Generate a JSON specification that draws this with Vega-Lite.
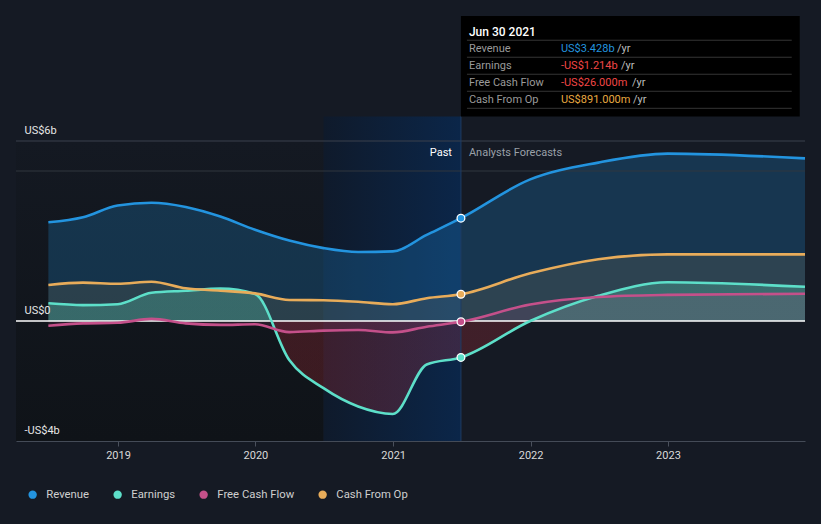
{
  "$schema": "https://vega.github.io/schema/vega-lite/v6.json",
  "width": 789,
  "height": 300,
  "autosize": {"type": "none"},
  "padding": {"left": 16, "top": 141, "right": 16, "bottom": 83},
  "background": "#151a24",
  "config": {"view": {"stroke": null}, "font": "Roboto", "text": {"font": "Roboto"}},
  "datasets": {
    "fin": [
      {"series": "Revenue", "date": "2018-06-30", "value": 3.29},
      {"series": "Revenue", "date": "2018-09-30", "value": 3.46},
      {"series": "Revenue", "date": "2018-12-31", "value": 3.85},
      {"series": "Revenue", "date": "2019-03-31", "value": 3.94},
      {"series": "Revenue", "date": "2019-06-30", "value": 3.80},
      {"series": "Revenue", "date": "2019-09-30", "value": 3.48},
      {"series": "Revenue", "date": "2019-12-31", "value": 3.04},
      {"series": "Revenue", "date": "2020-03-31", "value": 2.68},
      {"series": "Revenue", "date": "2020-06-30", "value": 2.43},
      {"series": "Revenue", "date": "2020-09-30", "value": 2.30},
      {"series": "Revenue", "date": "2020-12-31", "value": 2.32},
      {"series": "Revenue", "date": "2021-03-31", "value": 2.87},
      {"series": "Revenue", "date": "2021-06-30", "value": 3.428},
      {"series": "Revenue", "date": "2021-12-31", "value": 4.72},
      {"series": "Revenue", "date": "2022-06-30", "value": 5.28},
      {"series": "Revenue", "date": "2022-12-31", "value": 5.58},
      {"series": "Revenue", "date": "2023-12-31", "value": 5.42},
      {"series": "Earnings", "date": "2018-06-30", "value": 0.59},
      {"series": "Earnings", "date": "2018-09-30", "value": 0.53},
      {"series": "Earnings", "date": "2018-12-31", "value": 0.56},
      {"series": "Earnings", "date": "2019-03-31", "value": 0.94},
      {"series": "Earnings", "date": "2019-06-30", "value": 1.01},
      {"series": "Earnings", "date": "2019-09-30", "value": 1.08},
      {"series": "Earnings", "date": "2019-12-31", "value": 0.90},
      {"series": "Earnings", "date": "2020-03-31", "value": -1.30},
      {"series": "Earnings", "date": "2020-06-30", "value": -2.24},
      {"series": "Earnings", "date": "2020-09-30", "value": -2.85},
      {"series": "Earnings", "date": "2020-12-31", "value": -3.10},
      {"series": "Earnings", "date": "2021-03-31", "value": -1.45},
      {"series": "Earnings", "date": "2021-06-30", "value": -1.214},
      {"series": "Earnings", "date": "2021-12-31", "value": 0.0},
      {"series": "Earnings", "date": "2022-06-30", "value": 0.84},
      {"series": "Earnings", "date": "2022-12-31", "value": 1.29},
      {"series": "Earnings", "date": "2023-12-31", "value": 1.14},
      {"series": "Free Cash Flow", "date": "2018-06-30", "value": -0.16},
      {"series": "Free Cash Flow", "date": "2018-09-30", "value": -0.08},
      {"series": "Free Cash Flow", "date": "2018-12-31", "value": -0.06},
      {"series": "Free Cash Flow", "date": "2019-03-31", "value": 0.07},
      {"series": "Free Cash Flow", "date": "2019-06-30", "value": -0.08},
      {"series": "Free Cash Flow", "date": "2019-09-30", "value": -0.13},
      {"series": "Free Cash Flow", "date": "2019-12-31", "value": -0.11},
      {"series": "Free Cash Flow", "date": "2020-03-31", "value": -0.37},
      {"series": "Free Cash Flow", "date": "2020-06-30", "value": -0.32},
      {"series": "Free Cash Flow", "date": "2020-09-30", "value": -0.30},
      {"series": "Free Cash Flow", "date": "2020-12-31", "value": -0.38},
      {"series": "Free Cash Flow", "date": "2021-03-31", "value": -0.19},
      {"series": "Free Cash Flow", "date": "2021-06-30", "value": -0.026},
      {"series": "Free Cash Flow", "date": "2021-12-31", "value": 0.55},
      {"series": "Free Cash Flow", "date": "2022-06-30", "value": 0.80},
      {"series": "Free Cash Flow", "date": "2022-12-31", "value": 0.87},
      {"series": "Free Cash Flow", "date": "2023-12-31", "value": 0.91},
      {"series": "Cash From Op", "date": "2018-06-30", "value": 1.20},
      {"series": "Cash From Op", "date": "2018-09-30", "value": 1.28},
      {"series": "Cash From Op", "date": "2018-12-31", "value": 1.24},
      {"series": "Cash From Op", "date": "2019-03-31", "value": 1.31},
      {"series": "Cash From Op", "date": "2019-06-30", "value": 1.09},
      {"series": "Cash From Op", "date": "2019-09-30", "value": 1.01},
      {"series": "Cash From Op", "date": "2019-12-31", "value": 0.92},
      {"series": "Cash From Op", "date": "2020-03-31", "value": 0.70},
      {"series": "Cash From Op", "date": "2020-06-30", "value": 0.69},
      {"series": "Cash From Op", "date": "2020-09-30", "value": 0.64},
      {"series": "Cash From Op", "date": "2020-12-31", "value": 0.56},
      {"series": "Cash From Op", "date": "2021-03-31", "value": 0.76},
      {"series": "Cash From Op", "date": "2021-06-30", "value": 0.891},
      {"series": "Cash From Op", "date": "2021-12-31", "value": 1.59},
      {"series": "Cash From Op", "date": "2022-06-30", "value": 2.06},
      {"series": "Cash From Op", "date": "2022-12-31", "value": 2.22},
      {"series": "Cash From Op", "date": "2023-12-31", "value": 2.22}
    ],
    "now": [
      {"series": "Revenue", "date": "2021-06-30", "value": 3.428},
      {"series": "Earnings", "date": "2021-06-30", "value": -1.214},
      {"series": "Free Cash Flow", "date": "2021-06-30", "value": -0.026},
      {"series": "Cash From Op", "date": "2021-06-30", "value": 0.891}
    ],
    "tip": [
      {"label": "Revenue", "value": "US$3.428b"},
      {"label": "Earnings", "value": "-US$1.214b"},
      {"label": "Free Cash Flow", "value": "-US$26.000m"},
      {"label": "Cash From Op", "value": "US$891.000m"}
    ],
    "tiphead": [
      {"label": "Jun 30 2021"}
    ]
  },
  "layer": [
    {
      "data": {"values": [{}]},
      "layer": [
        {
          "mark": {"type": "rect", "fill": {"gradient": "linear", "x1": 0, "y1": 0, "x2": 0, "y2": 1, "stops": [{"offset": 0, "color": "#141922"}, {"offset": 1, "color": "#0f1318"}]}},
          "encoding": {
            "x": {"datum": {"year": 2018, "month": 4, "date": 5, "utc": true}, "type": "temporal",
                  "scale": {"type": "utc", "domain": [{"year": 2018, "month": 4, "date": 5, "utc": true}, {"year": 2023, "month": 12, "date": 31, "utc": true}]},
                  "axis": {"format": "%Y", "tickCount": "year", "grid": false, "title": null, "labelColor": "#d9d9d9", "labelFontSize": 11, "labelPadding": 3, "tickColor": "#4a505c", "tickSize": 5, "domainColor": "#444b57", "labelFlush": false, "zindex": 1}},
            "x2": {"datum": {"year": 2020, "month": 6, "date": 30, "utc": true}},
            "y": {"datum": 6, "type": "quantitative",
                  "scale": {"domain": [-4, 6], "nice": false, "zero": false},
                  "axis": {"values": [-4, 0, 6], "labelExpr": "datum.value == 0 ? 'US$0' : (datum.value < 0 ? '-US$' + abs(datum.value) + 'b' : 'US$' + datum.value + 'b')", "labelAlign": "left", "labelPadding": -8, "labelBaseline": "alphabetic", "labelOffset": -8, "ticks": false, "domain": false, "grid": false, "title": null, "labelColor": "#e6e6e6", "labelFontSize": 11, "zindex": 2}},
            "y2": {"datum": -4}
          }
        },
        {
          "mark": {"type": "rect", "fill": {"gradient": "linear", "x1": 0, "y1": 0, "x2": 1, "y2": 0, "stops": [{"offset": 0, "color": "#0f1a2b"}, {"offset": 1, "color": "#0b2649"}]}},
          "encoding": {
            "x": {"datum": {"year": 2020, "month": 6, "date": 30, "utc": true}, "type": "temporal"},
            "x2": {"datum": {"year": 2021, "month": 6, "date": 30, "utc": true}},
            "y": {"datum": 6.82, "type": "quantitative"},
            "y2": {"datum": -4}
          }
        },
        {
          "data": {"name": "fin"},
          "transform": [{"filter": "datum.series == 'Revenue'"}],
          "mark": {"type": "area", "interpolate": "monotone", "fill": "#2394df", "fillOpacity": 0.24},
          "encoding": {
            "x": {"field": "date", "type": "temporal"},
            "y": {"field": "value", "type": "quantitative"},
            "y2": {"datum": 0}
          }
        },
        {
          "data": {"name": "fin"},
          "transform": [{"filter": "datum.series == 'Cash From Op'"}],
          "mark": {"type": "area", "interpolate": "monotone", "fill": "#e8ac5a", "fillOpacity": 0.11},
          "encoding": {
            "x": {"field": "date", "type": "temporal"},
            "y": {"field": "value", "type": "quantitative"},
            "y2": {"datum": 0}
          }
        },
        {
          "data": {"name": "fin"},
          "transform": [{"filter": "datum.series == 'Earnings'"}],
          "mark": {"type": "area", "interpolate": "monotone", "fill": {"gradient": "linear", "x1": 0, "y1": 0, "x2": 0, "y2": 1, "stops": [{"offset": 0, "color": "rgba(94,224,192,0.26)"}, {"offset": 0.294, "color": "rgba(94,224,192,0.26)"}, {"offset": 0.296, "color": "rgba(215,50,60,0.22)"}, {"offset": 1, "color": "rgba(215,50,60,0.22)"}]}},
          "encoding": {
            "x": {"field": "date", "type": "temporal"},
            "y": {"field": "value", "type": "quantitative"},
            "y2": {"datum": 0}
          }
        },
        {
          "data": {"name": "fin"},
          "transform": [{"filter": "datum.series == 'Free Cash Flow'"}],
          "mark": {"type": "area", "interpolate": "monotone", "fill": "#c4508a", "fillOpacity": 0.13},
          "encoding": {
            "x": {"field": "date", "type": "temporal"},
            "y": {"field": "value", "type": "quantitative"},
            "y2": {"datum": 0}
          }
        },
        {
          "mark": {"type": "rule", "color": "#3a404c", "strokeWidth": 1},
          "encoding": {"y": {"datum": 6, "type": "quantitative"}}
        },
        {
          "mark": {"type": "rule", "color": "#30363f", "strokeWidth": 1},
          "encoding": {"y": {"datum": 5, "type": "quantitative"}}
        },
        {
          "mark": {"type": "rule", "color": "#1f3b63", "strokeWidth": 1},
          "encoding": {
            "x": {"datum": {"year": 2021, "month": 6, "date": 30, "utc": true}, "type": "temporal"},
            "y": {"datum": 6.82, "type": "quantitative"},
            "y2": {"datum": -4}
          }
        },
        {
          "mark": {"type": "rule", "color": "#ffffff", "strokeWidth": 1.5},
          "encoding": {"y": {"datum": 0, "type": "quantitative"}}
        },
        {
          "data": {"name": "fin"},
          "mark": {"type": "line", "interpolate": "monotone", "strokeWidth": 2.6},
          "encoding": {
            "x": {"field": "date", "type": "temporal"},
            "y": {"field": "value", "type": "quantitative"},
            "stroke": {"field": "series", "type": "nominal",
                       "scale": {"domain": ["Revenue", "Earnings", "Free Cash Flow", "Cash From Op"], "range": ["#2394df", "#5ddfc9", "#c4508a", "#e8ac5a"]},
                       "legend": null}
          }
        },
        {
          "data": {"name": "now"},
          "mark": {"type": "circle", "size": 60, "opacity": 1, "stroke": "#ffffff", "strokeWidth": 1.3},
          "encoding": {
            "x": {"field": "date", "type": "temporal"},
            "y": {"field": "value", "type": "quantitative"},
            "color": {"field": "series", "type": "nominal",
                      "scale": {"domain": ["Revenue", "Earnings", "Free Cash Flow", "Cash From Op"], "range": ["#2394df", "#5ddfc9", "#c4508a", "#e8ac5a"]},
                      "legend": {"orient": "none", "legendX": 11, "legendY": 348, "direction": "horizontal", "title": null, "symbolType": "circle", "symbolSize": 70, "symbolStrokeWidth": 0, "labelColor": "#cfcfcf", "labelFontSize": 11.3, "labelFont": "Roboto", "columnPadding": 22, "labelOffset": 8}}
          }
        },
        {
          "mark": {"type": "text", "align": "right", "baseline": "middle", "dx": -9, "fontSize": 11, "color": "#ffffff", "text": "Past"},
          "encoding": {
            "x": {"datum": {"year": 2021, "month": 6, "date": 30, "utc": true}, "type": "temporal"},
            "y": {"datum": 5.6, "type": "quantitative"}
          }
        },
        {
          "mark": {"type": "text", "align": "left", "baseline": "middle", "dx": 8, "fontSize": 11, "color": "#9aa0a8", "text": "Analysts Forecasts"},
          "encoding": {
            "x": {"datum": {"year": 2021, "month": 6, "date": 30, "utc": true}, "type": "temporal"},
            "y": {"datum": 5.6, "type": "quantitative"}
          }
        },
        {
          "mark": {"type": "rect", "fill": "#000000"},
          "encoding": {
            "x": {"datum": {"year": 2021, "month": 6, "date": 30, "utc": true}, "type": "temporal"},
            "x2": {"datum": {"year": 2023, "month": 12, "date": 17, "utc": true}},
            "y": {"datum": 10.17, "type": "quantitative"},
            "y2": {"datum": 6.82}
          }
        }
      ]
    },
    {
      "layer": [
        {
          "data": {"name": "tiphead"},
          "mark": {"type": "text", "align": "left", "baseline": "middle", "dx": 8, "fontSize": 12, "fontWeight": 500, "color": "#ffffff"},
          "encoding": {
            "x": {"datum": {"year": 2021, "month": 6, "date": 30, "utc": true}, "type": "temporal"},
            "y": {"field": "label", "type": "nominal",
                  "scale": {"type": "band", "domain": ["Jun 30 2021", "Revenue", "Earnings", "Free Cash Flow", "Cash From Op"], "range": [-117.8, -32.7], "paddingInner": 0, "paddingOuter": 0},
                  "axis": null},
            "text": {"field": "label"}
          }
        },
        {
          "data": {"name": "tip"},
          "mark": {"type": "text", "align": "left", "baseline": "middle", "dx": 8, "fontSize": 11, "color": "#9a9a9a"},
          "encoding": {
            "x": {"datum": {"year": 2021, "month": 6, "date": 30, "utc": true}, "type": "temporal"},
            "y": {"field": "label", "type": "nominal"},
            "text": {"field": "label"}
          }
        },
        {
          "data": {"name": "tip"},
          "mark": {"type": "text", "align": "left", "baseline": "middle", "dx": 100, "fontSize": 11},
          "encoding": {
            "x": {"datum": {"year": 2021, "month": 6, "date": 30, "utc": true}, "type": "temporal"},
            "y": {"field": "label", "type": "nominal"},
            "text": {"field": "value"},
            "color": {"field": "label", "type": "nominal",
                      "scale": {"domain": ["Revenue", "Earnings", "Free Cash Flow", "Cash From Op"], "range": ["#2394df", "#f04646", "#f04646", "#e8a940"]},
                      "legend": null}
          }
        },
        {
          "data": {"name": "tip"},
          "transform": [{"filter": "datum.label == 'Revenue'"}],
          "mark": {"type": "text", "align": "left", "baseline": "middle", "dx": 156, "fontSize": 11, "color": "#bdbdbd", "text": "/yr"},
          "encoding": {
            "x": {"datum": {"year": 2021, "month": 6, "date": 30, "utc": true}, "type": "temporal"},
            "y": {"field": "label", "type": "nominal"}
          }
        },
        {
          "data": {"name": "tip"},
          "transform": [{"filter": "datum.label == 'Earnings'"}],
          "mark": {"type": "text", "align": "left", "baseline": "middle", "dx": 160, "fontSize": 11, "color": "#bdbdbd", "text": "/yr"},
          "encoding": {
            "x": {"datum": {"year": 2021, "month": 6, "date": 30, "utc": true}, "type": "temporal"},
            "y": {"field": "label", "type": "nominal"}
          }
        },
        {
          "data": {"name": "tip"},
          "transform": [{"filter": "datum.label == 'Free Cash Flow'"}],
          "mark": {"type": "text", "align": "left", "baseline": "middle", "dx": 171, "fontSize": 11, "color": "#bdbdbd", "text": "/yr"},
          "encoding": {
            "x": {"datum": {"year": 2021, "month": 6, "date": 30, "utc": true}, "type": "temporal"},
            "y": {"field": "label", "type": "nominal"}
          }
        },
        {
          "data": {"name": "tip"},
          "transform": [{"filter": "datum.label == 'Cash From Op'"}],
          "mark": {"type": "text", "align": "left", "baseline": "middle", "dx": 172, "fontSize": 11, "color": "#bdbdbd", "text": "/yr"},
          "encoding": {
            "x": {"datum": {"year": 2021, "month": 6, "date": 30, "utc": true}, "type": "temporal"},
            "y": {"field": "label", "type": "nominal"}
          }
        },
        {
          "data": {"name": "tiphead"},
          "mark": {"type": "rule", "color": "#353535", "strokeWidth": 1, "xOffset": 6, "x2Offset": -8},
          "encoding": {
            "x": {"datum": {"year": 2021, "month": 6, "date": 30, "utc": true}, "type": "temporal"},
            "x2": {"datum": {"year": 2023, "month": 12, "date": 17, "utc": true}},
            "y": {"field": "label", "type": "nominal", "bandPosition": 1}
          }
        },
        {
          "data": {"name": "tip"},
          "mark": {"type": "rule", "color": "#353535", "strokeWidth": 1, "xOffset": 6, "x2Offset": -8},
          "encoding": {
            "x": {"datum": {"year": 2021, "month": 6, "date": 30, "utc": true}, "type": "temporal"},
            "x2": {"datum": {"year": 2023, "month": 12, "date": 17, "utc": true}},
            "y": {"field": "label", "type": "nominal", "bandPosition": 1}
          }
        }
      ]
    }
  ],
  "resolve": {"scale": {"y": "independent", "color": "independent"}}
}
